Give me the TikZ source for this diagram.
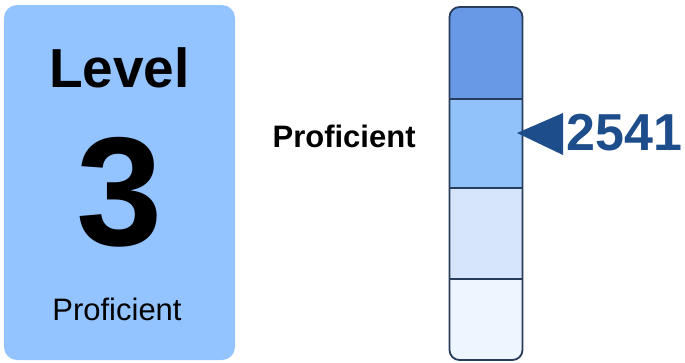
\documentclass[tikz,border=0pt]{standalone}
\usepackage{fontspec}
\setmainfont{Liberation Sans}
\definecolor{cardblue}{RGB}{148,196,255}
\definecolor{segA}{RGB}{104,153,230}
\definecolor{segB}{RGB}{146,194,250}
\definecolor{segC}{RGB}{214,229,251}
\definecolor{segD}{RGB}{237,245,255}
\definecolor{barline}{RGB}{40,60,92}
\definecolor{markblue}{RGB}{30,77,140}
\tikzset{
  lbl/.style={inner sep=0pt, outer sep=0pt, anchor=base},
  seg/.style={draw=none, inner sep=0pt, outer sep=0pt, anchor=north west, minimum width=73pt},
}
\begin{document}
\begin{tikzpicture}[x=1pt,y=-1pt]
\useasboundingbox (0,0) rectangle (685,362);
% card
\node[fill=cardblue, rounded corners=13pt, inner sep=0pt, outer sep=0pt,
      minimum width=231pt, minimum height=355pt, anchor=north west] (card) at (4,5) {};
\node[lbl, font=\fontsize{55}{60}\selectfont\bfseries] (level) at (119.5,87) {Level};
\node[lbl, font=\fontsize{155}{160}\selectfont\bfseries] (num) at (119.5,245) {3};
\node[lbl, font=\fontsize{31}{36}\selectfont] (prof) at (117,320) {Proficient};
% middle label
\node[lbl, anchor=base west, font=\fontsize{31}{36}\selectfont\bfseries] (mid) at (272.6,147) {Proficient};
% bar
\begin{scope}
\clip[rounded corners=10pt] (449.5,7) rectangle (522.5,360);
\node[seg, fill=segA, minimum height=92pt] (s1) at (449.5,7) {};
\node[seg, fill=segB, minimum height=89pt] (s2) at (449.5,99) {};
\node[seg, fill=segC, minimum height=91pt] (s3) at (449.5,188) {};
\node[seg, fill=segD, minimum height=81pt] (s4) at (449.5,279) {};
\end{scope}
\draw[barline, line width=1.6pt] (s1.south west) -- (s1.south east);
\draw[barline, line width=1.6pt] (s2.south west) -- (s2.south east);
\draw[barline, line width=1.6pt] (s3.south west) -- (s3.south east);
\draw[barline, line width=1.8pt, rounded corners=10pt] (449.5,7) rectangle (522.5,360);
% marker
\coordinate (tip) at (517,133);
\fill[markblue] (tip) -- (563,113) -- (563,155) -- cycle;
\node[lbl, anchor=base west, text=markblue, font=\fontsize{52}{56}\selectfont\bfseries] (score) at (566.5,150) {2541};
\end{tikzpicture}
\end{document}
